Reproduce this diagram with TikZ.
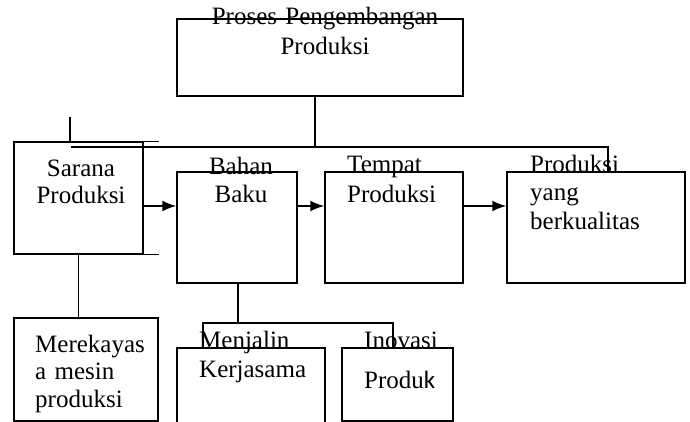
\documentclass[tikz,border=0pt]{standalone}
\usepackage{fontspec}
\setmainfont{Liberation Serif}
\newfontfamily\hurufk{Carlito}
\usetikzlibrary{arrows.meta}
\tikzstyle{kotak}=[rectangle,draw,line width=1.4pt,inner sep=0pt]
\tikzstyle{teks}=[inner sep=0pt,text width=300pt,font=\fontsize{25}{27.5}\selectfont]

\begin{document}
\begin{tikzpicture}[x=1pt,y=-1pt]
		\useasboundingbox (0,0) rectangle (690,422);
		\clip (0,0) rectangle (690,422);
		\tikzstyle{garis}=[line width=1.4pt]
		\tikzstyle{panah}=[->,>={Latex[length=14pt,width=11pt]},line width=1.9pt]
		
		\node[kotak,minimum width=286pt,minimum height=77pt] (proses) at (320,57.5) {};
		\node[kotak,minimum width=129pt,minimum height=112pt] (sarana) at (78.5,198) {};
		\node[kotak,minimum width=120pt,minimum height=111pt] (bahan) at (237,227.5) {};
		\node[kotak,minimum width=138pt,minimum height=111pt] (tempat) at (394,227.5) {};
		\node[kotak,minimum width=178pt,minimum height=111pt] (hasil) at (596,227.5) {};
		\node[kotak,minimum width=144pt,minimum height=103pt] (rekayasa) at (86,369.5) {};
		\node[kotak,minimum width=148pt,minimum height=90pt] (kerjasama) at (251,393) {};
		\node[kotak,minimum width=111pt,minimum height=73pt] (inovasi) at (397.5,384.5) {};
		
		\node[teks,align=center,anchor=base,font=\fontsize{25}{30}\selectfont] (tproses) at (325,25) {Proses Pengembangan\\Produksi};
		\node[teks,align=center,anchor=base,font=\fontsize{25}{27}\selectfont] (tsarana) at (81,176) {Sarana\\Produksi};
		\node[teks,align=center,anchor=base,font=\fontsize{25}{28}\selectfont] (tbahan) at (241,175) {Bahan\\Baku};
		\node[teks,align=left,anchor=base west,font=\fontsize{25}{29}\selectfont] (ttempat) at (347,173) {Tempat\\Produksi};
		\node[teks,align=left,anchor=base west,font=\fontsize{25}{28}\selectfont] (thasil) at (530,173) {Produksi\\yang\\berkualitas};
		\node[teks,align=left,anchor=base west] (trekayasa) at (35,352) {Merekayas\\a mesin\\produksi};
		\node[teks,align=left,anchor=base west,font=\fontsize{25}{29}\selectfont] (tkerjasama) at (199,348) {Menjalin\\Kerjasama};
		\node[teks,align=left,anchor=base west] (tinovasi) at (364,348) {Inovasi\\[12.5pt]Produ{\hurufk k}};
		
		\coordinate (tiang) at (315,147);
		\coordinate (ujungkiri) at (71,147);
		\coordinate (ujungkanan) at (608,147);
		\coordinate (tonjol) at (70,117);
		\coordinate (panahy) at (0,206);
		\coordinate (cabang) at (238,323);
		\coordinate (cabkiri) at (203,323);
		\coordinate (cabkanan) at (393,323);
		
		\draw[garis] (proses.south -| tiang) -- (tiang);
		\draw[garis] (ujungkiri) -- (ujungkanan) -- (hasil.north -| ujungkanan);
		\draw[garis] (tonjol) -- (tonjol |- sarana.north);
		\draw[garis] (sarana.north east) -- ++(15,0);
		\draw[garis] (sarana.south east) -- ++(15,0);
		\draw[garis] (sarana.south) -- (rekayasa.north -| sarana.south);
		\draw[garis] (bahan.south -| cabang) -- (cabang);
		\draw[garis] (kerjasama.north -| cabkiri) -- (cabkiri) -- (cabkanan) -- (inovasi.north -| cabkanan);
		
		\draw[panah] (sarana.east |- panahy) -- (bahan.west |- panahy);
		\draw[panah] (bahan.east |- panahy) -- (tempat.west |- panahy);
		\draw[panah] (tempat.east |- panahy) -- (hasil.west |- panahy);
		
		%\draw[garis,dashed] (tiang) -- (proses);
\end{tikzpicture}
\end{document}
